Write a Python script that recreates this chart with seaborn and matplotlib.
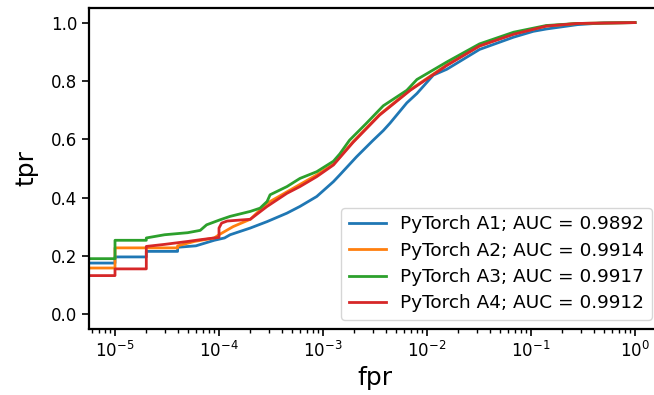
import numpy as np
import pandas as pd
import matplotlib
matplotlib.use("Agg")
import matplotlib.pyplot as plt
import seaborn as sns

names = ["PyTorch A1", "PyTorch A2", "PyTorch A3", "PyTorch A4"]
aucs = [0.9892, 0.9914, 0.9917, 0.9912]
colors = ["#1f77b4", "#ff7f0e", "#2ca02c", "#d62728"]

fpr_a1 = [0, 1e-5, 1e-5, 2e-5, 2e-5, 4e-5, 4e-5, 6e-5, 9e-5, 1.13e-4, 1.28e-4, 2e-4, 2.9e-4,
          4.5e-4, 6e-4, 8.7e-4, 1.26e-3, 1.45e-3, 2.1e-3, 3e-3, 3.8e-3, 4.4e-3, 6.4e-3, 8e-3,
          1.15e-2, 1.55e-2, 3.2e-2, 6.8e-2, 0.105, 0.14, 0.28, 0.5, 1.0]
tpr_a1 = [0.176, 0.176, 0.197, 0.197, 0.216, 0.216, 0.23, 0.235, 0.254, 0.262, 0.273, 0.296, 0.318,
          0.347, 0.37, 0.404, 0.455, 0.478, 0.54, 0.595, 0.63, 0.655, 0.725, 0.757,
          0.82, 0.84, 0.908, 0.95, 0.97, 0.978, 0.993, 0.999, 1.0]

fpr_a2 = [0, 1e-5, 1e-5, 4e-5, 4e-5, 5.8e-5, 9e-5, 1e-4, 1.37e-4, 2e-4, 2.9e-4, 4.5e-4, 8.7e-4,
          1.26e-3, 1.95e-3, 3.5e-3, 6.9e-3, 1.55e-2, 3.2e-2, 6.8e-2, 0.14, 0.28, 1.0]
tpr_a2 = [0.159, 0.159, 0.228, 0.228, 0.235, 0.25, 0.262, 0.273, 0.301, 0.326, 0.381, 0.42, 0.478,
          0.515, 0.592, 0.685, 0.77, 0.855, 0.92, 0.962, 0.988, 0.997, 1.0]

fpr_a3 = [0, 1e-5, 1e-5, 2e-5, 2e-5, 3e-5, 5e-5, 6.6e-5, 7.6e-5, 1.02e-4, 1.28e-4, 2e-4, 2.48e-4,
          2.9e-4, 3.1e-4, 4.5e-4, 6e-4, 8.7e-4, 1.26e-3, 1.45e-3, 1.8e-3, 2.6e-3, 3.8e-3, 6.4e-3,
          8e-3, 1.55e-2, 3.2e-2, 6.8e-2, 0.14, 0.28, 1.0]
tpr_a3 = [0.191, 0.191, 0.254, 0.254, 0.262, 0.273, 0.28, 0.288, 0.307, 0.324, 0.336, 0.353, 0.364,
          0.387, 0.41, 0.438, 0.466, 0.489, 0.525, 0.55, 0.597, 0.654, 0.715, 0.768,
          0.805, 0.865, 0.927, 0.967, 0.99, 0.997, 1.0]

fpr_a4 = [0, 1e-5, 1e-5, 2e-5, 2e-5, 3e-5, 5e-5, 6.6e-5, 9e-5, 1e-4, 1e-4, 1.06e-4, 1.2e-4, 2e-4,
          2.9e-4, 4.5e-4, 6e-4, 8.7e-4, 1.26e-3, 1.95e-3, 3.5e-3, 6.9e-3, 1.55e-2, 3.2e-2,
          6.8e-2, 0.14, 0.28, 1.0]
tpr_a4 = [0.133, 0.133, 0.156, 0.156, 0.233, 0.24, 0.25, 0.256, 0.262, 0.264, 0.296, 0.313, 0.32, 0.326,
          0.37, 0.415, 0.438, 0.472, 0.512, 0.59, 0.683, 0.768, 0.853, 0.92,
          0.96, 0.988, 0.997, 1.0]

fprs = [fpr_a1, fpr_a2, fpr_a3, fpr_a4]
tprs = [tpr_a1, tpr_a2, tpr_a3, tpr_a4]

labels = [f"{n}; AUC = {a:.4f}" for n, a in zip(names, aucs)]
frames = []
for lab, f, t in zip(labels, fprs, tprs):
    frames.append(pd.DataFrame({"fpr": f, "tpr": t, "label": lab}))
df = pd.concat(frames, ignore_index=True)

fig = plt.figure(figsize=(6.54, 3.95), dpi=100)
ax = fig.add_axes([89 / 654, 66 / 395, 572 / 654, 321 / 395])
ax.set_xscale("log")

sns.lineplot(data=df, x="fpr", y="tpr", hue="label", hue_order=labels,
             palette=colors, estimator=None, sort=False, linewidth=2.0, ax=ax)

ax.set_xlim(10 ** -5.25, 10 ** 0.25)
ax.set_ylim(-0.05, 1.05)
ax.set_yticks([0.0, 0.2, 0.4, 0.6, 0.8, 1.0])
ax.set_xlabel("fpr", fontsize=18, labelpad=4)
ax.set_ylabel("tpr", fontsize=18, labelpad=9)
ax.tick_params(axis="both", labelsize=12, width=1.2, length=5)
ax.tick_params(axis="x", which="minor", width=1.0, length=3)
for s in ax.spines.values():
    s.set_linewidth(1.6)

sns.move_legend(ax, "lower right", title=None, fontsize=13.3, labelspacing=0.45)

fig.savefig("out.png", dpi=100)
